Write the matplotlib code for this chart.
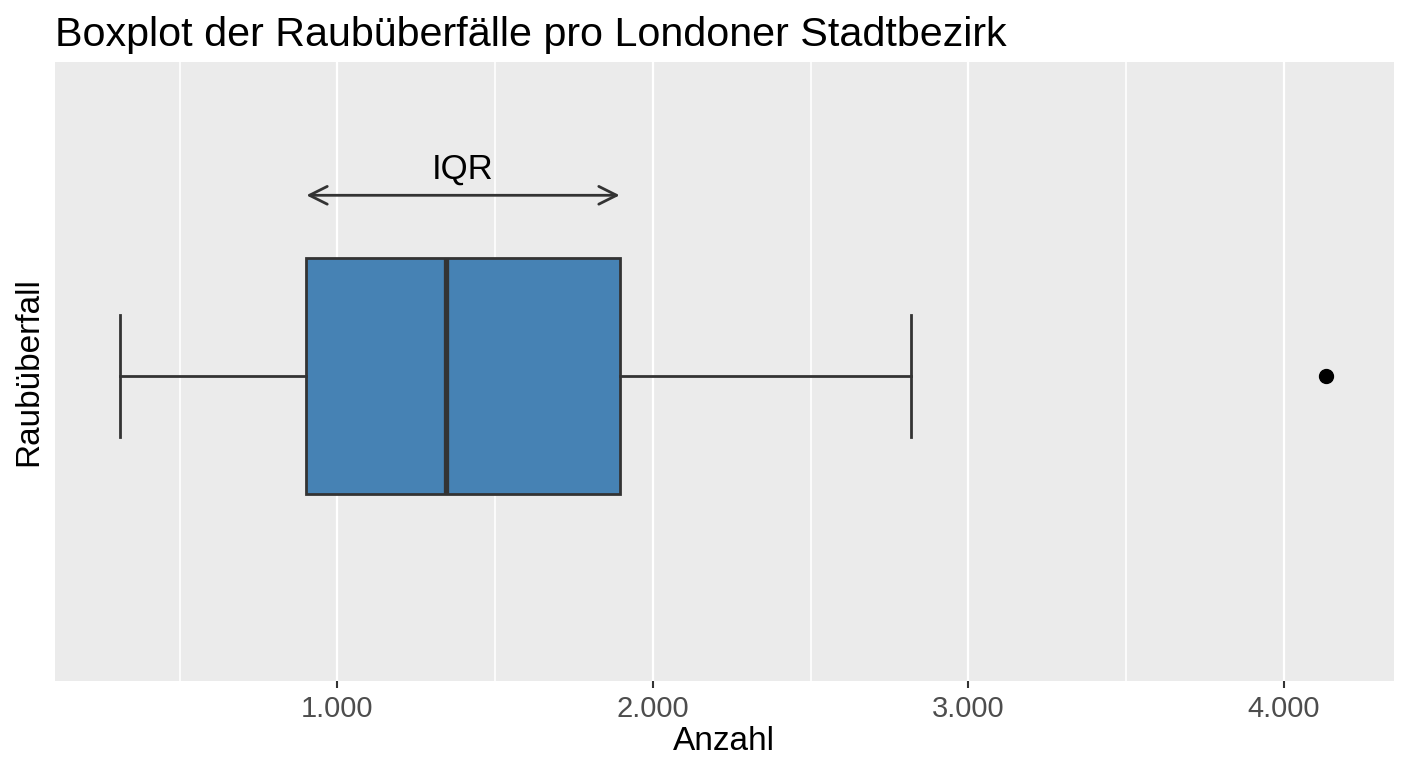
import matplotlib.pyplot as plt
from matplotlib.ticker import FixedLocator, FuncFormatter

plt.rcParams['font.family'] = ['Liberation Sans', 'DejaVu Sans']

# Kennzahlen des Boxplots
kategorie = 'Raubüberfall'
whisker_unten = 310
q1 = 902
median = 1346
q3 = 1895
whisker_oben = 2819
ausreisser = [4133]

major_ticks = [1000, 2000, 3000, 4000]
minor_ticks = [500, 1500, 2500, 3500]

fig = plt.figure(figsize=(14.08, 7.68), dpi=100)
ax = fig.add_axes([0.039, 0.113, 0.951, 0.806])
ax.set_facecolor('#EBEBEB')

stats = [{
    'label': kategorie,
    'whislo': whisker_unten, 'q1': q1, 'med': median,
    'q3': q3, 'whishi': whisker_oben, 'fliers': ausreisser,
}]
ax.bxp(stats, positions=[1], widths=0.457, orientation='horizontal',
       patch_artist=True, capwidths=0.236,
       boxprops=dict(facecolor='#4682B4', edgecolor='#333333', linewidth=2),
       medianprops=dict(color='#333333', linewidth=3.8),
       whiskerprops=dict(color='#333333', linewidth=2),
       capprops=dict(color='#333333', linewidth=2),
       flierprops=dict(marker='o', markerfacecolor='black', markeredgecolor='black',
                       markersize=10))

ax.set_xlim(105, 4349)
ax.set_ylim(0.409, 1.609)

ax.xaxis.set_major_locator(FixedLocator(major_ticks))
ax.xaxis.set_minor_locator(FixedLocator(minor_ticks))
ax.xaxis.set_major_formatter(FuncFormatter(lambda v, p: f'{int(v):,}'.replace(',', '.')))
ax.grid(which='major', axis='x', color='white', linewidth=1.6)
ax.grid(which='minor', axis='x', color='white', linewidth=1.2)
ax.set_axisbelow(True)
ax.tick_params(axis='x', which='major', length=5, width=1.5, color='#333333',
               labelsize=21, labelcolor='#4D4D4D', pad=5)
ax.tick_params(axis='x', which='minor', length=0)
ax.set_yticks([])
for s in ax.spines.values():
    s.set_visible(False)

# IQR-Pfeil
ax.annotate('', xy=(q1, 1.351), xytext=(q3, 1.351),
            arrowprops=dict(arrowstyle='<->', color='#333333', lw=2,
                            mutation_scale=32, shrinkA=0, shrinkB=0))
ax.text((q1 + q3) / 2, 1.37, 'IQR', ha='center', va='bottom', fontsize=25, color='black')

ax.set_xlabel('Anzahl', fontsize=24, labelpad=2)
ax.set_ylabel('Raubüberfall', fontsize=24, labelpad=8)
ax.set_title('Boxplot der Raubüberfälle pro Londoner Stadtbezirk', loc='left',
             fontsize=29.7, pad=12, x=0.0)

fig.savefig('out.png', dpi=100)
